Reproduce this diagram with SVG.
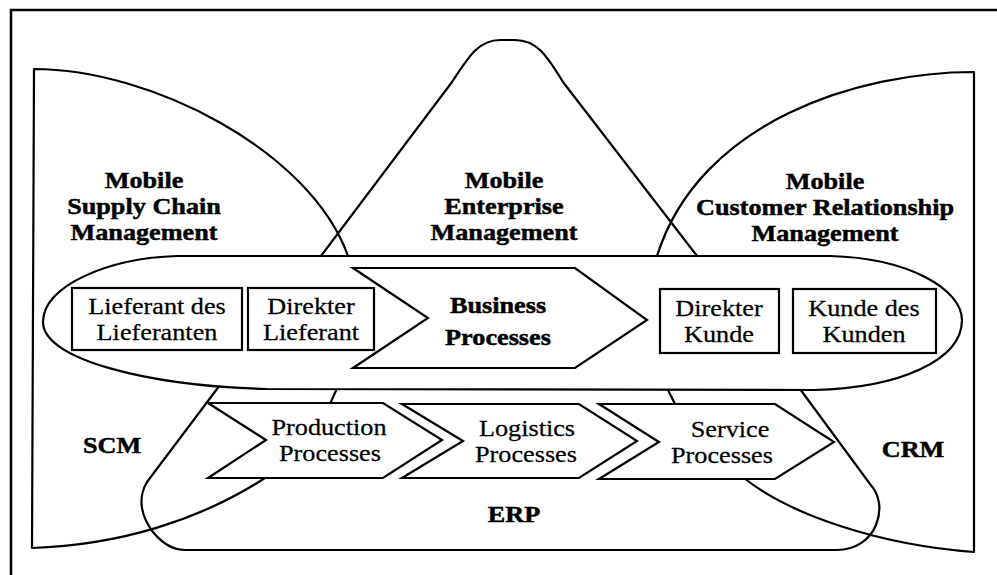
<svg xmlns="http://www.w3.org/2000/svg" width="997" height="575" viewBox="0 0 997 575">
<style>
.ln{fill:none;stroke:#000;stroke-width:2.2;stroke-linejoin:round}
.wf{fill:#fff;stroke:#000;stroke-width:2.2;stroke-linejoin:miter}
.t{font-family:"Liberation Serif","Times New Roman",serif;font-size:23px;fill:#000;text-anchor:middle;stroke:#000;stroke-width:0.25}
.b{font-weight:bold;stroke-width:0.45}
</style>
<rect width="997" height="575" fill="#fff"/>
<path d="M11,575 L11,10 L997,10" fill="none" stroke="#000" stroke-width="2.5"/>

<g id="scm">
<path class="ln" d="M348,256 C310,150 150,69 34,69 L32,548 C120,545 200,520 265,478"/>
<text class="t b" transform="translate(144,188) scale(1.14,1)">Mobile</text>
<text class="t b" transform="translate(144,214) scale(1.14,1)">Supply Chain</text>
<text class="t b" transform="translate(144,240) scale(1.14,1)">Management</text>
<text class="t b" transform="translate(112,453) scale(1.14,1)">SCM</text>
</g>

<g id="crm">
<path class="ln" d="M657,256 C700,120 860,72 974,72 L974,552 C880,545 790,515 744,478"/>
<text class="t b" transform="translate(825,189) scale(1.14,1)">Mobile</text>
<text class="t b" transform="translate(825,215) scale(1.14,1)">Customer Relationship</text>
<text class="t b" transform="translate(825,241) scale(1.14,1)">Management</text>
<text class="t b" transform="translate(913,457) scale(1.14,1)">CRM</text>
</g>

<g id="enterprise">
<path class="ln" d="M321,256 L452,82 C468,58 478,40 500,40 L515,40 C536,40 546,54 563,82 L697,256"/>
<path class="ln" d="M338,386 L330,404 M666,386 L675,404"/>
<text class="t b" transform="translate(504,188) scale(1.14,1)">Mobile</text>
<text class="t b" transform="translate(504,214) scale(1.14,1)">Enterprise</text>
<text class="t b" transform="translate(504,240) scale(1.14,1)">Management</text>
</g>

<g id="erp">
<path class="ln" d="M220,385 L147,482 C138,497 140,515 153,532 C162,543 172,550 185,550 L837,550 C855,550 870,540 876,525 C882,510 880,495 870,484 L800,389"/>
<text class="t b" transform="translate(514,522) scale(1.14,1)">ERP</text>
</g>

<g id="business-band">
<path class="wf" d="M177,256 L830,256 C910,258 962,290 962,320 C962,360 900,388 814,390 L267,389 C150,386 43,360 43,322 C43,285 110,258 177,256 Z"/>
</g>

<g id="lieferant-des-lieferanten">
<rect class="wf" x="72" y="288" width="170" height="62"/>
<text class="t" transform="translate(157,314) scale(1.14,1)">Lieferant des</text>
<text class="t" transform="translate(157,340) scale(1.14,1)">Lieferanten</text>
</g>

<g id="direkter-lieferant">
<rect class="wf" x="248" y="288" width="126" height="62"/>
<text class="t" transform="translate(311,314) scale(1.14,1)">Direkter</text>
<text class="t" transform="translate(311,340) scale(1.14,1)">Lieferant</text>
</g>

<g id="business-processes">
<path class="wf" d="M353,268 L575,268 L647,320 L575,368 L353,368 L428,318 Z"/>
<text class="t b" transform="translate(498,313) scale(1.14,1)">Business</text>
<text class="t b" transform="translate(498,345) scale(1.14,1)">Processes</text>
</g>

<g id="direkter-kunde">
<rect class="wf" x="660" y="289" width="119" height="64"/>
<text class="t" transform="translate(719,316) scale(1.14,1)">Direkter</text>
<text class="t" transform="translate(719,342) scale(1.14,1)">Kunde</text>
</g>

<g id="kunde-des-kunden">
<rect class="wf" x="793" y="289" width="143" height="64"/>
<text class="t" transform="translate(864,316) scale(1.14,1)">Kunde des</text>
<text class="t" transform="translate(864,342) scale(1.14,1)">Kunden</text>
</g>

<g id="production-processes">
<path class="wf" d="M208,403 L383,403 L442,440 L383,478 L208,478 L266,440 Z"/>
<text class="t" transform="translate(329,435) scale(1.14,1)">Production</text>
<text class="t" transform="translate(330,461) scale(1.14,1)">Processes</text>
</g>

<g id="logistics-processes">
<path class="wf" d="M402,404 L579,404 L637,441 L579,478 L402,478 L463,441 Z"/>
<text class="t" transform="translate(527,436) scale(1.14,1)">Logistics</text>
<text class="t" transform="translate(526,462) scale(1.14,1)">Processes</text>
</g>

<g id="service-processes">
<path class="wf" d="M599,404 L775,404 L834,442 L775,479 L599,479 L659,442 Z"/>
<text class="t" transform="translate(730,437) scale(1.14,1)">Service</text>
<text class="t" transform="translate(722,463) scale(1.14,1)">Processes</text>
</g>

<g id="connectors"></g>
</svg>
